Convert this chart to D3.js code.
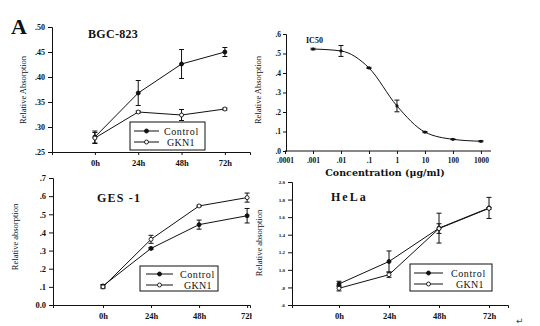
<!DOCTYPE html>
<html><head><meta charset="utf-8">
<script src="https://cdn.jsdelivr.net/npm/d3@7"></script>
<style>body{margin:0;background:#fff}svg{display:block}</style>
</head><body><svg id="c" width="540" height="326"></svg>
<script>
// ---- data ----
const timeCats = ["0h", "24h", "48h", "72h"];

const bgcTicks = [0.25, 0.30, 0.35, 0.40, 0.45, 0.50];
const bgcTickLabels = [".25", ".30", ".35", ".40", ".45", ".50"];
const bgcControl = [0.280, 0.368, 0.426, 0.450];
const bgcControlErr = [0.012, 0.025, 0.029, 0.009];
const bgcGKN1 = [0.278, 0.330, 0.324, 0.336];
const bgcGKN1Err = [0.011, 0.002, 0.011, 0.002];

const icConc = [0.001, 0.01, 0.1, 1, 10, 100, 1000];
const icValues = [0.523, 0.513, 0.426, 0.231, 0.097, 0.060, 0.050];
const icErr = [0.004, 0.028, 0.003, 0.030, 0.003, 0.002, 0.003];
const icXTicks = [0.0001, 0.001, 0.01, 0.1, 1, 10, 100, 1000];
const icXTickLabels = [".0001", ".001", ".01", ".1", "1", "10", "100", "1000"];
const icYTicks = [0, 0.1, 0.2, 0.3, 0.4, 0.5, 0.6];
const icYTickLabels = [".0", ".1", ".2", ".3", ".4", ".5", ".6"];

const gesTicks = [0, 0.1, 0.2, 0.3, 0.4, 0.5, 0.6, 0.7];
const gesTickLabels = ["0.0", ".1", ".2", ".3", ".4", ".5", ".6", ".7"];
const gesControl = [0.105, 0.312, 0.443, 0.492];
const gesControlErr = [0.008, 0.005, 0.025, 0.040];
const gesGKN1 = [0.100, 0.362, 0.546, 0.592];
const gesGKN1Err = [0.010, 0.022, 0.004, 0.025];

const helaTicks = [0.6, 0.8, 1.0, 1.2, 1.4, 1.6, 1.8, 2.0];
const helaTickLabels = [".6", ".8", "1.0", "1.2", "1.4", "1.6", "1.8", "2.0"];
const helaControl = [0.840, 1.095, 1.475, 1.705];
const helaControlErr = [0.030, 0.120, 0.170, 0.120];
const helaGKN1 = [0.790, 0.945, 1.470, 1.700];
const helaGKN1Err = [0.030, 0.030, 0.055, 0.010];

const seriesNames = ["Control", "GKN1"];

// ---- drawing ----
const svg = d3.select("#c");
const SERIF = "'Liberation Serif','DejaVu Serif',serif";
const INK = "#111";

function errBars(g, xs, ys, vals, errs, xf, cap) {
  vals.forEach((v, i) => {
    const x = xf(i), e = errs[i];
    g.append("line").attr("x1", x).attr("x2", x).attr("y1", ys(v - e)).attr("y2", ys(v + e))
      .attr("stroke", INK).attr("stroke-width", 1);
    [v - e, v + e].forEach(t => g.append("line").attr("x1", x - cap).attr("x2", x + cap)
      .attr("y1", ys(t)).attr("y2", ys(t)).attr("stroke", INK).attr("stroke-width", 1));
  });
}

function styleAxis(g, size, weight) {
  g.select(".domain").attr("stroke", INK).attr("stroke-width", 1);
  g.selectAll(".tick line").attr("stroke", INK);
  g.selectAll(".tick text").attr("font-family", SERIF).attr("font-size", size)
    .attr("font-weight", weight).attr("fill", INK);
}

function timePanel(o) {
  const x = d3.scaleLinear().domain(o.xDom).range(o.xRange);
  const y = d3.scaleLinear().domain(o.yDom).range(o.yRange);
  const g = svg.append("g");
  const xa = g.append("g").attr("transform", `translate(0,${o.yRange[0]})`)
    .call(d3.axisBottom(x).tickValues([0, 1, 2, 3]).tickFormat(i => timeCats[i]).tickSizeOuter(0).tickSize(3).tickPadding(5));
  styleAxis(xa, o.xFont, "bold");
  const ya = g.append("g").attr("transform", `translate(${o.xRange[0]},0)`)
    .call(d3.axisLeft(y).tickValues(o.yTicks).tickFormat((d, i) => o.yLabels[i]).tickSizeOuter(0).tickSize(4).tickPadding(3));
  styleAxis(ya, o.yFont, "bold");
  if (o.clip) {
    const cid = "clip" + Math.round(o.clip);
    svg.append("clipPath").attr("id", cid).append("rect").attr("x", 0).attr("y", 0).attr("width", o.clip).attr("height", 326);
    xa.attr("clip-path", `url(#${cid})`);
  }
  const line = d3.line().x((d, i) => x(i)).y(d => y(d));
  const sets = [[o.ctrl, o.ctrlErr, true], [o.gkn, o.gknErr, false]];
  sets.forEach(([vals, errs]) => errBars(g, x, y, vals, errs, i => x(i), 2.5));
  sets.forEach(([vals, errs, filled]) => {
    g.append("path").datum(vals).attr("d", line).attr("fill", "none").attr("stroke", INK).attr("stroke-width", 1);
  });
  sets.forEach(([vals, errs, filled]) => {
    g.selectAll(null).data(vals).enter().append("circle")
      .attr("cx", (d, i) => x(i)).attr("cy", d => y(d)).attr("r", 2)
      .attr("fill", filled ? INK : "#fff").attr("stroke", INK).attr("stroke-width", 0.9);
  });
  // title
  g.append("text").attr("x", o.title[1]).attr("y", o.title[2]).text(o.title[0])
    .attr("font-family", SERIF).attr("font-weight", "bold").attr("font-size", 12)
    .attr("letter-spacing", o.title[3] || 0).attr("fill", INK);
  // y label
  g.append("text").attr("transform", `translate(${o.yLab[1]},${o.yLab[2]}) rotate(-90)`)
    .attr("text-anchor", "middle").text(o.yLab[0])
    .attr("font-family", SERIF).attr("font-size", 8.5).attr("fill", INK);
  // legend
  const L = o.legend;
  g.append("rect").attr("x", L.x).attr("y", L.y).attr("width", L.w).attr("height", L.h)
    .attr("fill", "#fff").attr("stroke", INK).attr("stroke-width", 1);
  seriesNames.forEach((n, i) => {
    const yy = L.rows[i];
    g.append("line").attr("x1", L.l0).attr("x2", L.l1).attr("y1", yy).attr("y2", yy).attr("stroke", INK);
    g.append("circle").attr("cx", (L.l0 + L.l1) / 2).attr("cy", yy).attr("r", 2)
      .attr("fill", i === 0 ? INK : "#fff").attr("stroke", INK).attr("stroke-width", 0.9);
    g.append("text").attr("x", L.tx[i]).attr("y", yy + 3.5).text(n)
      .attr("font-family", SERIF).attr("font-size", 10).attr("letter-spacing", i === 0 ? 0.6 : 0.3).attr("fill", INK);
  });
}

// Panel A label
svg.append("text").attr("x", 11).attr("y", 34).text("A").attr("font-family", SERIF)
  .attr("font-weight", "bold").attr("font-size", 22).attr("fill", INK);

timePanel({
  xDom: [-0.99, 3.58], xRange: [52, 250], yDom: [0.25, 0.50], yRange: [152, 27],
  yTicks: bgcTicks, yLabels: bgcTickLabels, xFont: 8.5, yFont: 8,
  ctrl: bgcControl, ctrlErr: bgcControlErr, gkn: bgcGKN1, gknErr: bgcGKN1Err,
  title: ["BGC-823", 88, 38, 0.3], yLab: ["Relative Absorption", 26, 90],
  legend: { x: 130, y: 122, w: 75, h: 28, rows: [131, 142], l0: 134, l1: 159, tx: [164, 167] }
});

timePanel({
  xDom: [-1.04, 3.06], xRange: [53, 250], yDom: [0, 0.7], yRange: [305, 178],
  yTicks: gesTicks, yLabels: gesTickLabels, xFont: 8.5, yFont: 8.5, clip: 252,
  ctrl: gesControl, ctrlErr: gesControlErr, gkn: gesGKN1, gknErr: gesGKN1Err,
  title: ["GES -1", 97, 202, 1.2], yLab: ["Relative absorption", 18, 237],
  legend: { x: 140, y: 266, w: 78, h: 25, rows: [274, 285], l0: 146, l1: 173, tx: [180, 184] }
});

timePanel({
  xDom: [-0.94, 3.38], xRange: [292, 508], yDom: [0.6, 2.0], yRange: [305, 182],
  yTicks: helaTicks, yLabels: helaTickLabels, xFont: 8.5, yFont: 5,
  ctrl: helaControl, ctrlErr: helaControlErr, gkn: helaGKN1, gknErr: helaGKN1Err,
  title: ["HeLa", 331, 201, 2], yLab: ["Relative absorption", 262, 243],
  legend: { x: 410, y: 264, w: 82, h: 27, rows: [273, 284], l0: 414, l1: 443, tx: [451, 456] }
});

// IC50 panel
(function () {
  const x = d3.scaleLog().domain([1e-4, 2290]).range([285, 491]);
  const y = d3.scaleLinear().domain([0, 0.6]).range([151, 34]);
  const g = svg.append("g");
  const xa = g.append("g").attr("transform", "translate(0,151)")
    .call(d3.axisBottom(x).tickValues(icXTicks).tickFormat((d, i) => icXTickLabels[i]).tickSizeOuter(0).tickSize(3).tickPadding(4));
  styleAxis(xa, 7.5, "bold");
  xa.select(".domain").attr("d", "M285,0H491");
  const ya = g.append("g").attr("transform", "translate(286,0)")
    .call(d3.axisLeft(y).tickValues(icYTicks).tickFormat((d, i) => icYTickLabels[i]).tickSizeOuter(0).tickSize(3).tickPadding(2));
  styleAxis(ya, 7.5, "bold");
  const pts = icConc.map((c, i) => [x(c), y(icValues[i])]);
  g.append("path").datum(pts).attr("d", d3.line().curve(d3.curveMonotoneX))
    .attr("fill", "none").attr("stroke", INK).attr("stroke-width", 1);
  errBars(g, x, y, icValues, icErr, i => x(icConc[i]), 2.5);
  g.selectAll(null).data(pts).enter().append("circle").attr("cx", d => d[0]).attr("cy", d => d[1])
    .attr("r", 1.6).attr("fill", INK);
  g.append("text").attr("x", 306).attr("y", 43).text("IC50").attr("font-family", SERIF)
    .attr("font-weight", "bold").attr("font-size", 8).attr("fill", INK);
  g.append("text").attr("x", 385).attr("y", 176).attr("text-anchor", "middle").text("Concentration (μg/ml)")
    .attr("font-family", "'DejaVu Serif',serif").attr("font-weight", "bold").attr("font-size", 9.5).attr("fill", INK);
  g.append("text").attr("transform", "translate(261,90) rotate(-90)").attr("text-anchor", "middle")
    .text("Relative Absorption").attr("font-family", SERIF).attr("font-size", 8.5).attr("fill", INK);
})();

svg.append("text").attr("x", 516).attr("y", 324).text("↵").attr("font-family", "'DejaVu Sans',sans-serif")
  .attr("font-size", 9).attr("fill", "#444");
</script></body></html>
